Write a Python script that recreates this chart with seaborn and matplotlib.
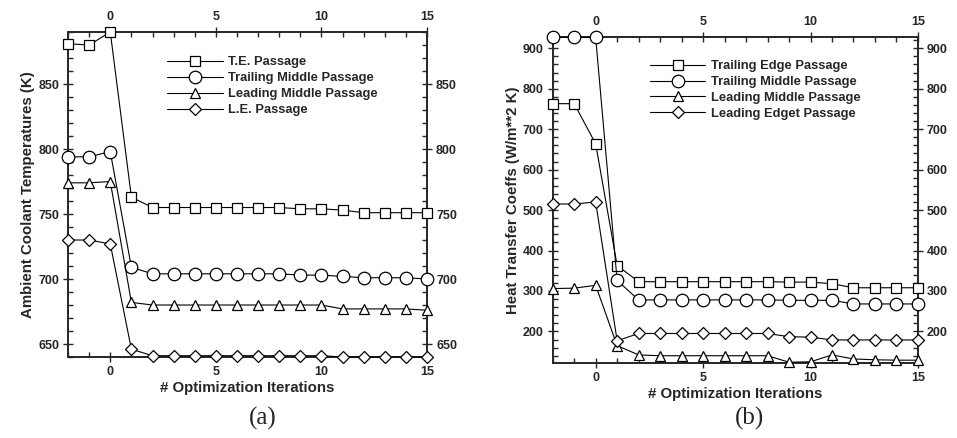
import matplotlib
matplotlib.use("Agg")
import matplotlib.pyplot as plt
from matplotlib.ticker import MultipleLocator
import seaborn as sns

# iterations (-2, -1 are the initial designs)
iterations = [-2, -1, 0, 1, 2, 3, 4, 5, 6, 7, 8, 9, 10, 11, 12, 13, 14, 15]

# (a) ambient coolant temperatures, K
te_temp = [881, 880, 890, 763, 755, 755, 755, 755, 755, 755, 755, 754, 754, 753, 751, 751, 751, 751]
tm_temp = [794, 794, 798, 709, 704, 704, 704, 704, 704, 704, 704, 703, 703, 702, 701, 701, 701, 700]
lm_temp = [774, 774, 775, 682, 680, 680, 680, 680, 680, 680, 680, 680, 680, 677, 677, 677, 677, 676]
le_temp = [730, 730, 727, 646, 641, 641, 641, 641, 641, 641, 641, 641, 641, 640, 640, 640, 640, 640]
labels_a = ["T.E. Passage", "Trailing Middle Passage", "Leading Middle Passage", "L.E. Passage"]

# (b) heat transfer coefficients, W/m**2 K
te_htc = [763, 763, 664, 363, 323, 323, 323, 323, 323, 323, 323, 322, 322, 318, 308, 308, 308, 308]
tm_htc = [927, 927, 927, 326, 278, 278, 278, 278, 278, 278, 278, 277, 277, 277, 268, 268, 268, 268]
lm_htc = [306, 307, 314, 165, 142, 140, 140, 140, 140, 140, 140, 124, 125, 142, 132, 130, 129, 129]
le_htc = [515, 515, 520, 177, 195, 195, 195, 195, 195, 195, 195, 187, 186, 179, 179, 179, 179, 179]
labels_b = ["Trailing Edge Passage", "Trailing Middle Passage", "Leading Middle Passage", "Leading Edget Passage"]

markers = [("s", 7), ("o", 9), ("^", 7.5), ("D", 6.5)]

sns.set_style("ticks")
plt.rcParams["font.family"] = ["Liberation Sans", "DejaVu Sans"]
plt.rcParams["font.weight"] = "bold"

fig = plt.figure(figsize=(9.57, 4.38), dpi=100)
ax_a = fig.add_axes([0.0711, 0.1849, 0.3751, 0.742])
ax_b = fig.add_axes([0.5775, 0.1712, 0.3817, 0.7436])


def draw_panel(ax, series, labels, ylim, ymajor, yminor, ylabel, legend_xy):
    for vals, lab, (mk, ms) in zip(series, labels, markers):
        sns.lineplot(x=iterations, y=vals, ax=ax, color="black", linewidth=0.8,
                     marker=mk, markersize=ms, markerfacecolor="white",
                     markeredgecolor="black", markeredgewidth=0.9, label=lab,
                     clip_on=False, zorder=3)
    ax.set_xlim(-2, 15)
    ax.set_ylim(*ylim)
    ax.xaxis.set_major_locator(MultipleLocator(5))
    ax.xaxis.set_minor_locator(MultipleLocator(1))
    ax.yaxis.set_major_locator(MultipleLocator(ymajor))
    ax.yaxis.set_minor_locator(MultipleLocator(yminor))
    ax.tick_params(which="both", top=True, right=True, labeltop=True, labelright=True,
                   labelsize=9, width=1.0, pad=3)
    ax.tick_params(which="major", direction="inout", length=7)
    ax.tick_params(which="minor", direction="in", length=3.5)
    for s in ax.spines.values():
        s.set_linewidth(1.4)
        s.set_visible(True)
    ax.set_xlabel("# Optimization Iterations", fontsize=10.8, fontweight="bold", labelpad=2)
    ax.set_ylabel(ylabel, fontsize=10.8, fontweight="bold", labelpad=2)
    ax.legend(loc="upper left", bbox_to_anchor=legend_xy, frameon=False, fontsize=9.3,
              handlelength=4.3, handletextpad=0.45, labelspacing=0.3, borderpad=0,
              borderaxespad=0)


draw_panel(ax_a, [te_temp, tm_temp, lm_temp, le_temp], labels_a, (640, 890), 50, 10,
           "Ambient Coolant Temperatures (K)", (0.276, 0.925))
draw_panel(ax_b, [te_htc, tm_htc, lm_htc, le_htc], labels_b, (122, 927), 100, 20,
           "Heat Transfer Coeffs (W/m**2 K)", (0.266, 0.93))

fig.text(263 / 957, 1 - 418 / 438, "(a)", ha="center", va="center", fontsize=18,
         family=["Liberation Serif", "DejaVu Serif"], fontweight="normal")
fig.text(750 / 957, 1 - 418 / 438, "(b)", ha="center", va="center", fontsize=18,
         family=["Liberation Serif", "DejaVu Serif"], fontweight="normal")

fig.savefig("out.png", dpi=100)
